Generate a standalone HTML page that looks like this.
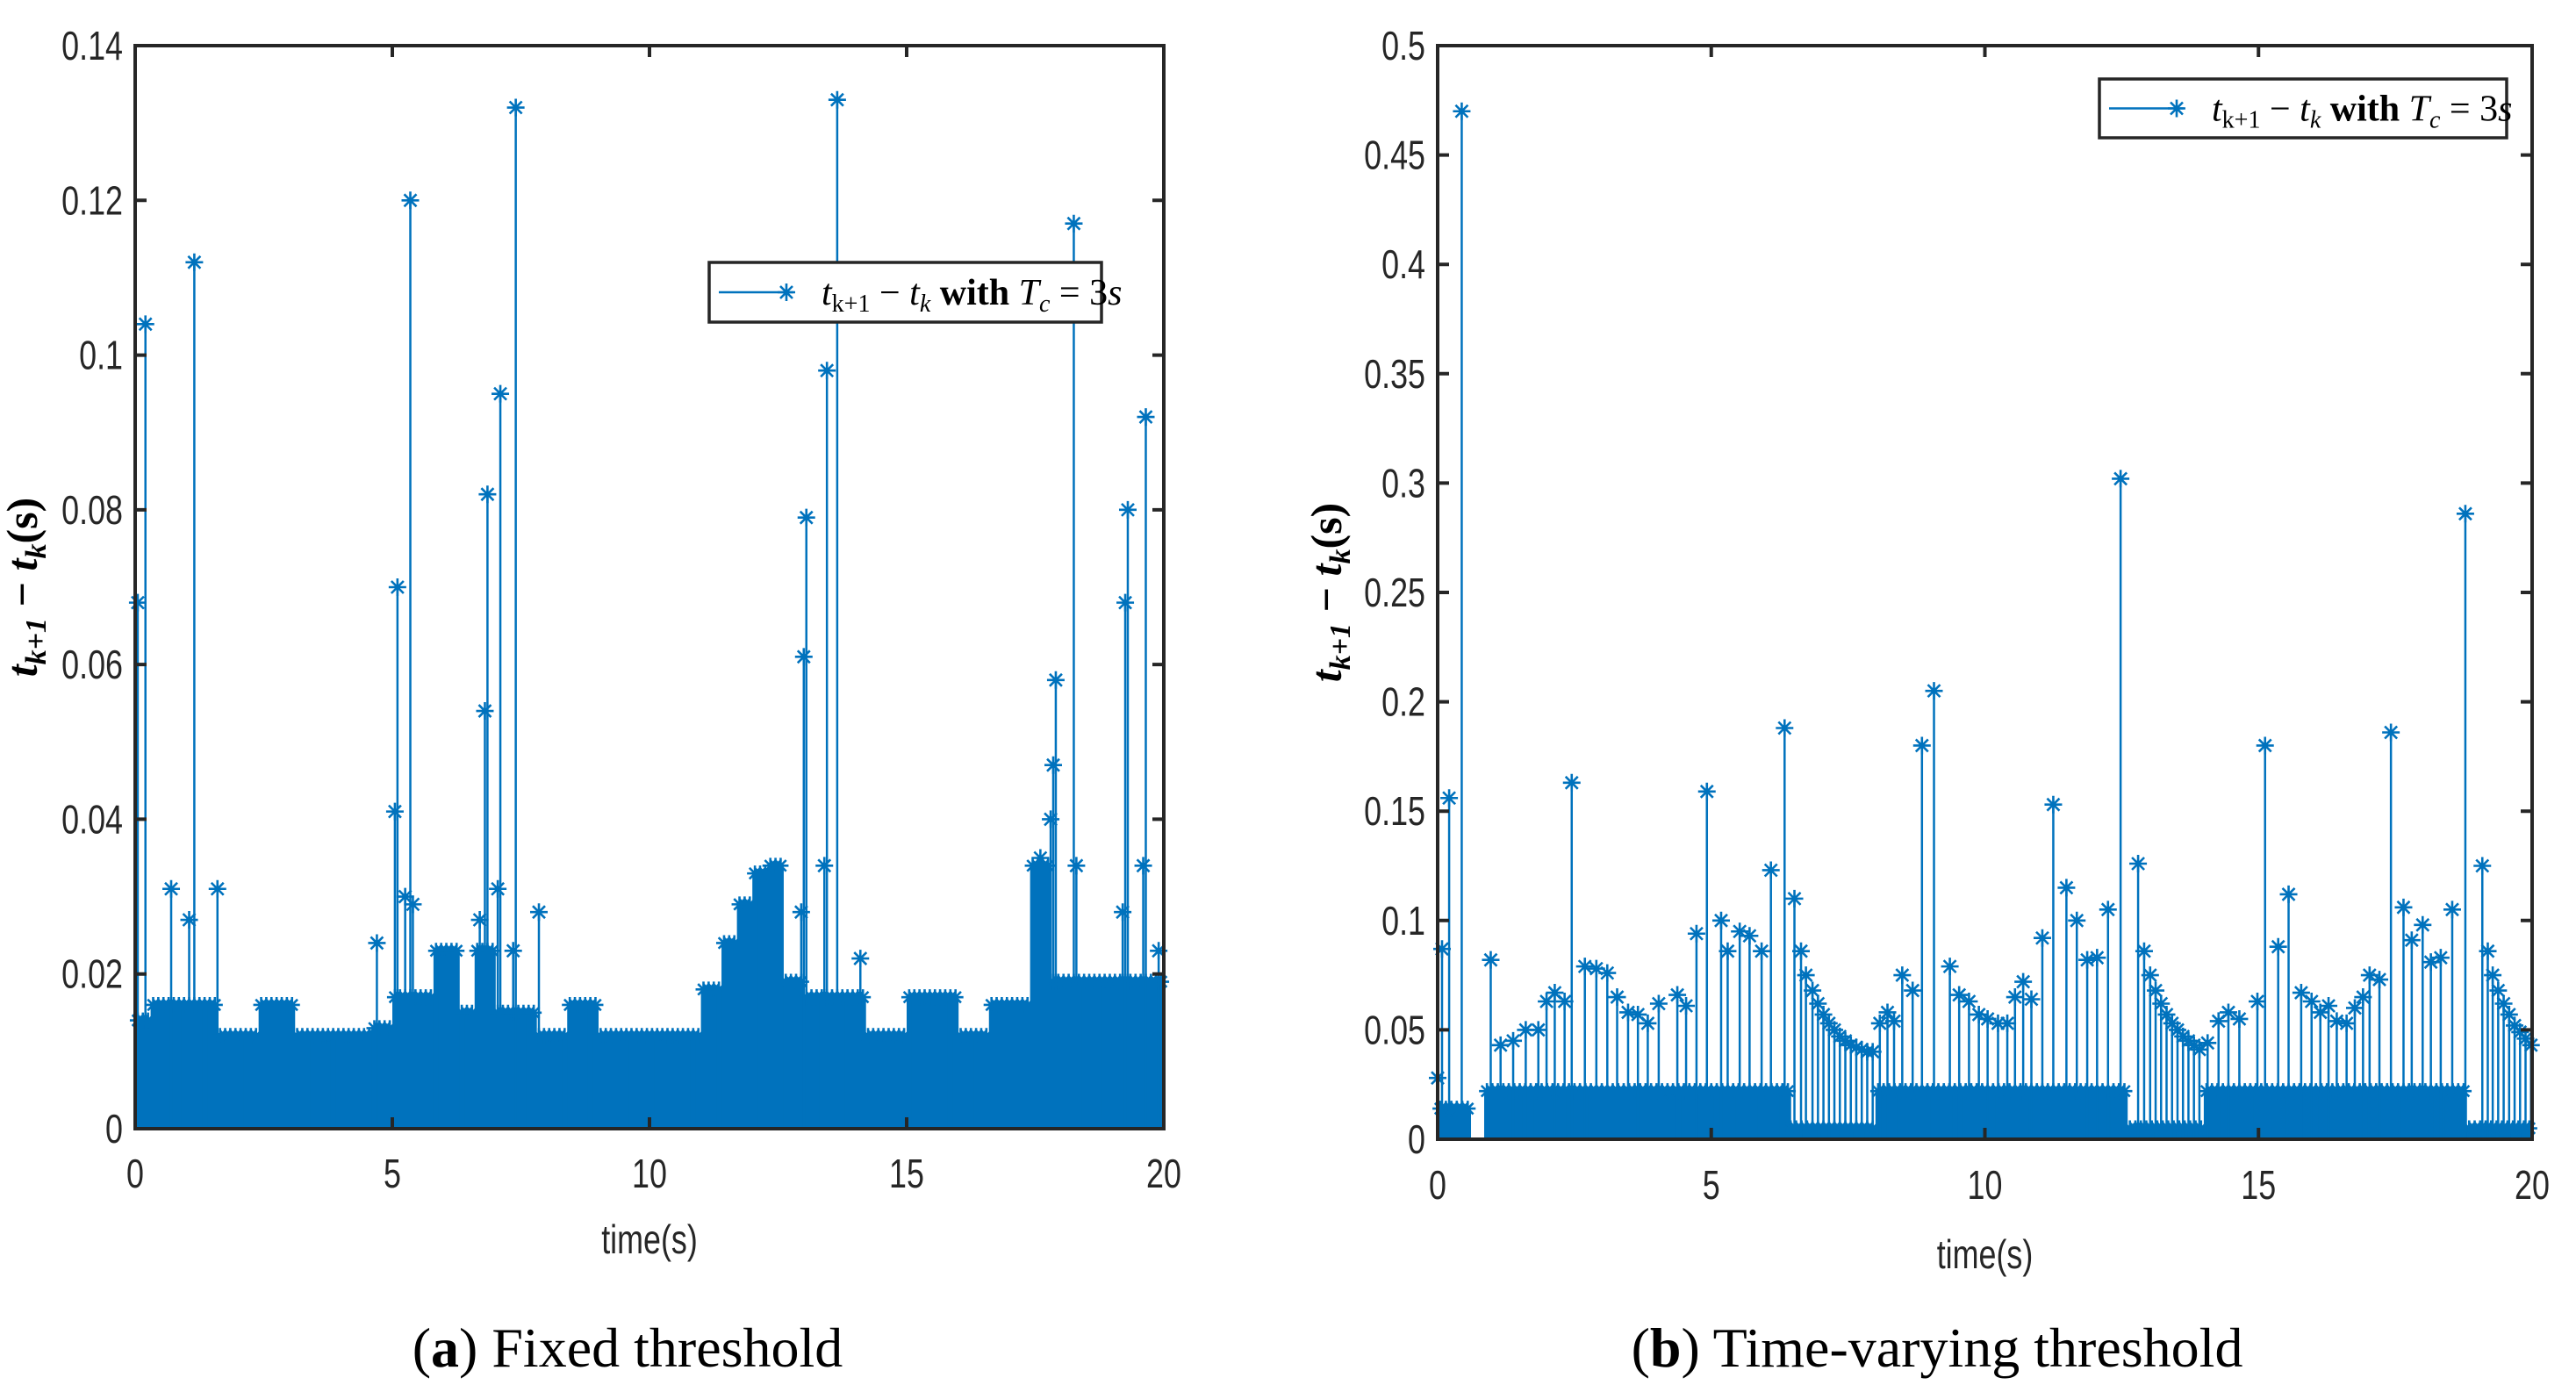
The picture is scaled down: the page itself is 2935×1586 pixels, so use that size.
<!DOCTYPE html>
<html><head><meta charset="utf-8"><style>
body{margin:0;background:#fff}
svg{display:block}
.tk{font-family:"Liberation Sans",sans-serif;font-size:46px;fill:#262626}
.cap{font-family:"Liberation Serif",serif;font-size:64px;fill:#000}
.math{font-family:"Liberation Serif",serif;font-style:italic;fill:#000}
</style></head><body>
<svg id="s" width="2935" height="1586" viewBox="0 0 2935 1586">
<g id="pa"></g>
<g id="pb"></g>
<text class="cap" x="715" y="1557" text-anchor="middle">(<tspan font-weight="bold">a</tspan>) Fixed threshold</text>
<text class="cap" x="2207" y="1557" text-anchor="middle">(<tspan font-weight="bold">b</tspan>) Time-varying threshold</text>
</svg>
<script>
// ---- Chart A data (fixed threshold)
const aBaseStart=[0,0.3,1.6,2.4,3.1,4.6,5.0,5.8,6.3,6.6,7.0,7.8,8.4,9.0,11.0,11.4,11.7,12.0,12.3,12.6,13.0,14.2,15.0,16.0,16.6,17.4,17.8];
const aBaseEnd=[0.3,1.6,2.4,3.1,4.6,5.0,5.8,6.3,6.6,7.0,7.8,8.4,9.0,11.0,11.4,11.7,12.0,12.3,12.6,13.0,14.2,15.0,16.0,16.6,17.4,17.8,20.0];
const aBaseLevel=[0.014,0.016,0.012,0.016,0.012,0.013,0.017,0.023,0.015,0.023,0.015,0.012,0.016,0.012,0.018,0.024,0.029,0.033,0.034,0.019,0.017,0.012,0.017,0.012,0.016,0.034,0.019];
const aSpikeT=[0.05,0.2,0.7,1.05,1.15,1.6,4.7,5.05,5.1,5.25,5.35,5.4,6.7,6.8,6.85,7.05,7.1,7.35,7.4,7.85,12.95,13.0,13.05,13.4,13.45,13.65,14.1,17.6,17.8,17.85,17.9,18.25,18.3,19.2,19.25,19.3,19.6,19.65,19.9];
const aSpikeV=[0.068,0.104,0.031,0.027,0.112,0.031,0.024,0.041,0.07,0.03,0.12,0.029,0.027,0.054,0.082,0.031,0.095,0.023,0.132,0.028,0.028,0.061,0.079,0.034,0.098,0.133,0.022,0.035,0.04,0.047,0.058,0.117,0.034,0.028,0.068,0.08,0.034,0.092,0.023];
const aYTicks=[0,0.02,0.04,0.06,0.08,0.1,0.12,0.14];
const aYLabels=["0","0.02","0.04","0.06","0.08","0.1","0.12","0.14"];
// ---- Chart B data (time-varying threshold)
const bBaseStart=[0,0.85,6.4,8.0,12.6,14.0,18.8];
const bBaseEnd=[0.6,6.4,8.0,12.6,14.0,18.8,20.0];
const bBaseLevel=[0.014,0.022,0.005,0.022,0.005,0.022,0.005];
const bSpikeT=[0.0,0.08,0.21,0.44,0.97,1.15,1.38,1.61,1.84,1.99,2.14,2.32,2.45,2.69,2.90,3.10,3.28,3.48,3.66,3.84,4.04,4.38,4.54,4.73,4.92,5.18,5.30,5.52,5.70,5.92,6.09,6.34,6.52,6.64,6.73,6.85,6.95,7.05,7.15,7.25,7.35,7.45,7.55,7.65,7.75,7.85,7.95,8.08,8.22,8.34,8.49,8.68,8.85,9.07,9.36,9.53,9.71,9.89,10.05,10.24,10.41,10.55,10.70,10.85,11.05,11.25,11.49,11.68,11.87,12.05,12.25,12.48,12.80,12.91,13.02,13.12,13.22,13.32,13.42,13.52,13.62,13.72,13.82,13.92,14.07,14.27,14.45,14.65,14.98,15.12,15.36,15.55,15.78,15.97,16.13,16.28,16.43,16.61,16.76,16.91,17.03,17.21,17.42,17.65,17.80,18.0,18.15,18.33,18.54,18.78,19.09,19.19,19.28,19.38,19.48,19.58,19.68,19.78,19.88,19.98];
const bSpikeV=[0.028,0.087,0.156,0.47,0.082,0.043,0.045,0.05,0.05,0.063,0.067,0.063,0.163,0.079,0.078,0.076,0.065,0.058,0.057,0.053,0.062,0.066,0.061,0.094,0.159,0.1,0.086,0.095,0.093,0.086,0.123,0.188,0.11,0.086,0.075,0.068,0.062,0.057,0.053,0.05,0.047,0.045,0.043,0.042,0.041,0.04,0.04,0.053,0.058,0.054,0.075,0.068,0.18,0.205,0.079,0.066,0.063,0.057,0.055,0.053,0.053,0.065,0.072,0.064,0.092,0.153,0.115,0.1,0.082,0.083,0.105,0.302,0.126,0.086,0.075,0.068,0.062,0.057,0.053,0.05,0.047,0.045,0.043,0.041,0.044,0.054,0.058,0.055,0.063,0.18,0.088,0.112,0.067,0.063,0.058,0.061,0.054,0.053,0.06,0.065,0.075,0.073,0.186,0.106,0.091,0.098,0.081,0.083,0.105,0.286,0.125,0.086,0.075,0.068,0.062,0.057,0.052,0.049,0.046,0.043];
const bYTicks=[0,0.05,0.1,0.15,0.2,0.25,0.3,0.35,0.4,0.45,0.5];
const bYLabels=["0","0.05","0.1","0.15","0.2","0.25","0.3","0.35","0.4","0.45","0.5"];
const xTicks=[0,5,10,15,20];
const xLabels=["0","5","10","15","20"];

const NS="http://www.w3.org/2000/svg";
const C="#0072BD";
function mk(tag,attrs,parent){const e=document.createElementNS(NS,tag);for(const k in attrs)e.setAttribute(k,attrs[k]);parent.appendChild(e);return e;}
function star(g,x,y,r){
  const p="M"+(x-r)+","+y+"H"+(x+r)+"M"+x+","+(y-r)+"V"+(y+r)+"M"+(x-r*0.7)+","+(y-r*0.7)+"L"+(x+r*0.7)+","+(y+r*0.7)+"M"+(x-r*0.7)+","+(y+r*0.7)+"L"+(x+r*0.7)+","+(y-r*0.7);
  const e=mk("path",{d:p,stroke:C,"stroke-width":2.6,fill:"none"},g);
  
  
}
function chart(g,L,R,T,B,ymax,bs,be,bl,st,sv,yt,yl,xlabY,xtY,ylabX,legX,legY,legW,legH){
  const sx=t=>L+(t/20)*(R-L), sy=v=>B-(v/ymax)*(B-T);
  const data=mk("g",{},g);
  
  
  const step=0.1;
  for(let i=0;i<bs.length;i++){
    for(let t=bs[i];t<be[i]-1e-6;t+=step){
      const r=mk("rect",{x:sx(t),y:sy(bl[i]),width:sx(step)-sx(0)+0.6,height:B-sy(bl[i]),fill:C},data);
      
      
      star(data,sx(t+step/2),sy(bl[i]),9);
    }
  }
  for(let i=0;i<st.length;i++){
    const l=mk("line",{x1:sx(st[i]),x2:sx(st[i]),y1:B,y2:sy(sv[i]),stroke:C,"stroke-width":2.5},data);
    
    
    star(data,sx(st[i]),sy(sv[i]),10);
  }
  const ax=mk("rect",{x:L,y:T,width:R-L,height:B-T,fill:"none",stroke:"#262626","stroke-width":4},g);
  
  
  for(let i=0;i<yt.length;i++){
    const y=sy(yt[i]);
    mk("path",{d:"M"+L+","+y+"h13M"+R+","+y+"h-13",stroke:"#262626","stroke-width":4},g);
    const tx=mk("text",{class:"tk","text-anchor":"end",transform:"translate("+(L-14)+","+(y+16)+") scale(0.78,1)"},g);
    tx.textContent=yl[i];
    
    
  }
  for(let i=0;i<xTicks.length;i++){
    const x=sx(xTicks[i]);
    mk("path",{d:"M"+x+","+B+"v-13M"+x+","+T+"v13",stroke:"#262626","stroke-width":4},g);
    const tx=mk("text",{class:"tk","text-anchor":"middle",transform:"translate("+x+","+xtY+") scale(0.78,1)"},g);
    tx.textContent=xLabels[i];
    
    
  }
  const xl=mk("text",{class:"tk","text-anchor":"middle",transform:"translate("+((L+R)/2)+","+xlabY+") scale(0.78,1)"},g);
  xl.textContent="time(s)";
  
  
  const yl2=mk("text",{class:"math","font-size":50,"font-weight":"bold","text-anchor":"middle",transform:"translate("+ylabX+","+((T+B)/2)+") rotate(-90)"},g);
  yl2.innerHTML='t<tspan font-size="34" dy="10">k+1</tspan><tspan dy="-10" font-style="normal"> − </tspan>t<tspan font-size="34" dy="10">k</tspan><tspan dy="-10" font-style="normal">(s)</tspan>';
  
  
  const lg=mk("g",{},g);
  
  
  mk("rect",{x:legX,y:legY,width:legW,height:legH,fill:"#fff",stroke:"#262626","stroke-width":3.5},lg);
  const cy=legY+legH/2;
  mk("line",{x1:legX+11,x2:legX+96,y1:cy,y2:cy,stroke:C,"stroke-width":2.5},lg);
  star(lg,legX+88,cy,10);
  const lt=mk("text",{class:"math","font-size":42,x:legX+128,y:cy+14},lg);
  lt.innerHTML='t<tspan font-size="28" dy="8" font-style="normal">k+1</tspan><tspan dy="-8" font-style="normal"> − </tspan>t<tspan font-size="28" dy="8">k</tspan><tspan dy="-8" font-style="normal" font-weight="bold"> with </tspan>T<tspan font-size="28" dy="8">c</tspan><tspan dy="-8" font-style="normal"> = 3</tspan>s';
  
  
}
chart(document.getElementById('pa'),154,1326,52,1286,0.14,aBaseStart,aBaseEnd,aBaseLevel,aSpikeT,aSpikeV,aYTicks,aYLabels,1428,1353,42,808,299,447,68);
chart(document.getElementById('pb'),1638,2885,52,1298,0.5,bBaseStart,bBaseEnd,bBaseLevel,bSpikeT,bSpikeV,bYTicks,bYLabels,1445,1366,1528,2392,90,464,67);
</script>
</body></html>
